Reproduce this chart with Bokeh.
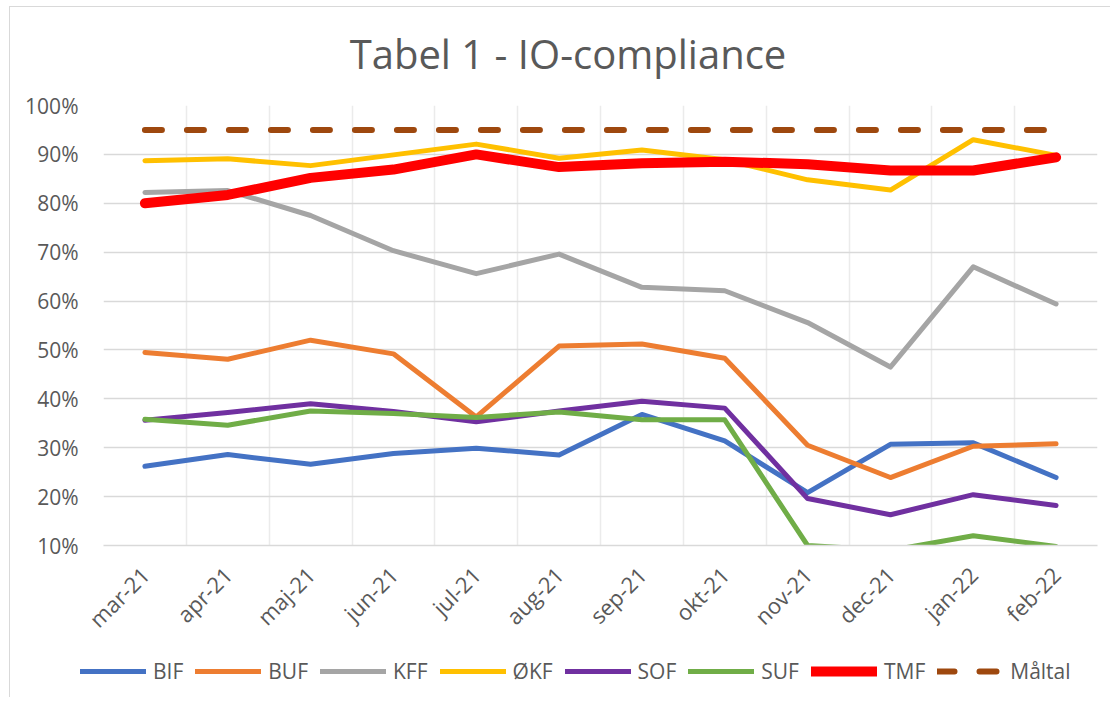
from bokeh.plotting import figure
from bokeh.layouts import column
from bokeh.models import Range1d, FixedTicker, PrintfTickFormatter, Legend, LegendItem
from bokeh.core.properties import value
from bokeh.embed import file_html
from bokeh.resources import INLINE
import math

months = ["mar-21", "apr-21", "maj-21", "jun-21", "jul-21", "aug-21",
          "sep-21", "okt-21", "nov-21", "dec-21", "jan-22", "feb-22"]
BIF = [26.2, 28.6, 26.6, 28.8, 29.9, 28.5, 36.8, 31.4, 20.8, 30.7, 31.0, 23.9]
BUF = [49.5, 48.1, 52.0, 49.2, 36.3, 50.8, 51.2, 48.3, 30.5, 23.9, 30.3, 30.8]
KFF = [82.2, 82.6, 77.5, 70.3, 65.6, 69.6, 62.8, 62.1, 55.6, 46.5, 67.0, 59.4]
OKF = [88.7, 89.1, 87.7, 89.9, 92.1, 89.2, 90.9, 88.9, 84.8, 82.7, 93.0, 89.8]
SOF = [35.6, 37.2, 39.0, 37.4, 35.3, 37.5, 39.5, 38.1, 19.6, 16.3, 20.4, 18.2]
SUF = [35.8, 34.6, 37.5, 37.0, 36.2, 37.3, 35.7, 35.7, 10.0, 9.0, 12.0, 9.8]
TMF = [80.0, 81.7, 85.2, 86.9, 90.0, 87.4, 88.2, 88.5, 88.0, 86.7, 86.7, 89.4]
MALTAL = [95, 95, 95, 95, 95, 95, 95, 95, 95, 95, 95, 95]
y_ticks = [10, 20, 30, 40, 50, 60, 70, 80, 90, 100]
title_text = "Tabel 1 - IO-compliance"

series_names = ["BIF", "BUF", "KFF", "ØKF", "SOF", "SUF", "TMF", "Måltal"]
series_values = [BIF, BUF, KFF, OKF, SOF, SUF, TMF, MALTAL]
colors = ["#4472C4", "#ED7D31", "#A5A5A5", "#FFC000", "#7030A0", "#70AD47", "#FF0000", "#9E480E"]
widths = [5, 5, 5, 5, 5, 5, 10, 6]
dashes = ["solid"] * 7 + ["17 25"]

TXT = "#595959"
FONT = "Open Sans"
W = 1100


def bare(fig):
    fig.outline_line_color = None
    fig.background_fill_color = "white"
    fig.border_fill_color = "white"
    try:
        fig.frame_align = False
    except Exception:
        pass


# ---- title strip ----
t = figure(width=W, height=78, output_backend="svg", toolbar_location=None, title=None,
           x_range=Range1d(0, W), y_range=Range1d(0, 78), min_border=0,
           x_axis_location=None, y_axis_location=None)
bare(t)
t.grid.visible = False
t.text(x=[557.5], y=[32], text=[title_text], text_align="center", text_baseline="middle",
       text_font=value(FONT), text_font_size="40px", text_color=TXT)

# ---- main chart ----
n = len(months)
xs = [i + 0.5 for i in range(n)]

p = figure(width=W, height=562, output_backend="svg", toolbar_location=None, title=None,
           x_range=Range1d(0, n), y_range=Range1d(10, 100),
           min_border_left=93, min_border_right=13, min_border_top=20, min_border_bottom=102)
bare(p)

p.yaxis.ticker = FixedTicker(ticks=y_ticks)
p.yaxis.formatter = PrintfTickFormatter(format="%d%%")
p.yaxis.axis_line_color = None
p.yaxis.major_tick_line_color = None
p.yaxis.minor_tick_line_color = None
p.yaxis.major_label_text_font = FONT
p.yaxis.major_label_text_font_size = "21px"
p.yaxis.major_label_text_color = TXT
p.yaxis.major_label_standoff = 19
p.ygrid.ticker = FixedTicker(ticks=y_ticks)
p.ygrid.grid_line_color = "#d9d9d9"
p.ygrid.grid_line_width = 1.5

p.xaxis.ticker = FixedTicker(ticks=xs)
p.xaxis.major_label_overrides = {x: m for x, m in zip(xs, months)}
p.xaxis.major_label_orientation = math.pi / 4
p.xaxis.axis_line_color = "#d9d9d9"
p.xaxis.axis_line_width = 1.5
p.xaxis.major_tick_line_color = None
p.xaxis.minor_tick_line_color = None
p.xaxis.major_label_text_font = FONT
p.xaxis.major_label_text_font_size = "22px"
p.xaxis.major_label_text_color = TXT
p.xaxis.major_label_standoff = 19
p.xgrid.ticker = FixedTicker(ticks=list(range(n + 1)))
p.xgrid.grid_line_color = "#ebebeb"
p.xgrid.grid_line_width = 1.5

for name, vals, c, w, d in zip(series_names, series_values, colors, widths, dashes):
    p.line(xs, vals, line_color=c, line_width=w, line_dash=d,
           line_cap="round", line_join="round")

# ---- legend strip ----
q = figure(width=W, height=50, output_backend="svg", toolbar_location=None, title=None,
           x_range=Range1d(0, W), y_range=Range1d(0, 50), min_border=0,
           x_axis_location=None, y_axis_location=None)
bare(q)
q.grid.visible = False
items = []
for name, c, w, d in zip(series_names, colors, widths, dashes):
    r = q.line(x=[math.nan], y=[math.nan], line_color=c, line_width=w, line_dash=d,
               line_cap="round", line_join="round")
    items.append(LegendItem(label=name, renderers=[r]))
legend = Legend(items=items, orientation="horizontal", location=(70, 12),
                glyph_width=66, glyph_height=20, label_standoff=7, spacing=12,
                padding=0, margin=0, border_line_color=None, background_fill_alpha=0,
                label_text_font=FONT, label_text_font_size="21px", label_text_color=TXT)
q.add_layout(legend, "center")

layout = column(t, p, q, spacing=0)
layout.styles = {"border-left": "1px solid #d9d9d9", "border-top": "1px solid #d9d9d9",
                 "margin-left": "9px", "margin-top": "6px"}

open("out.html", "w").write(file_html(layout, INLINE))
